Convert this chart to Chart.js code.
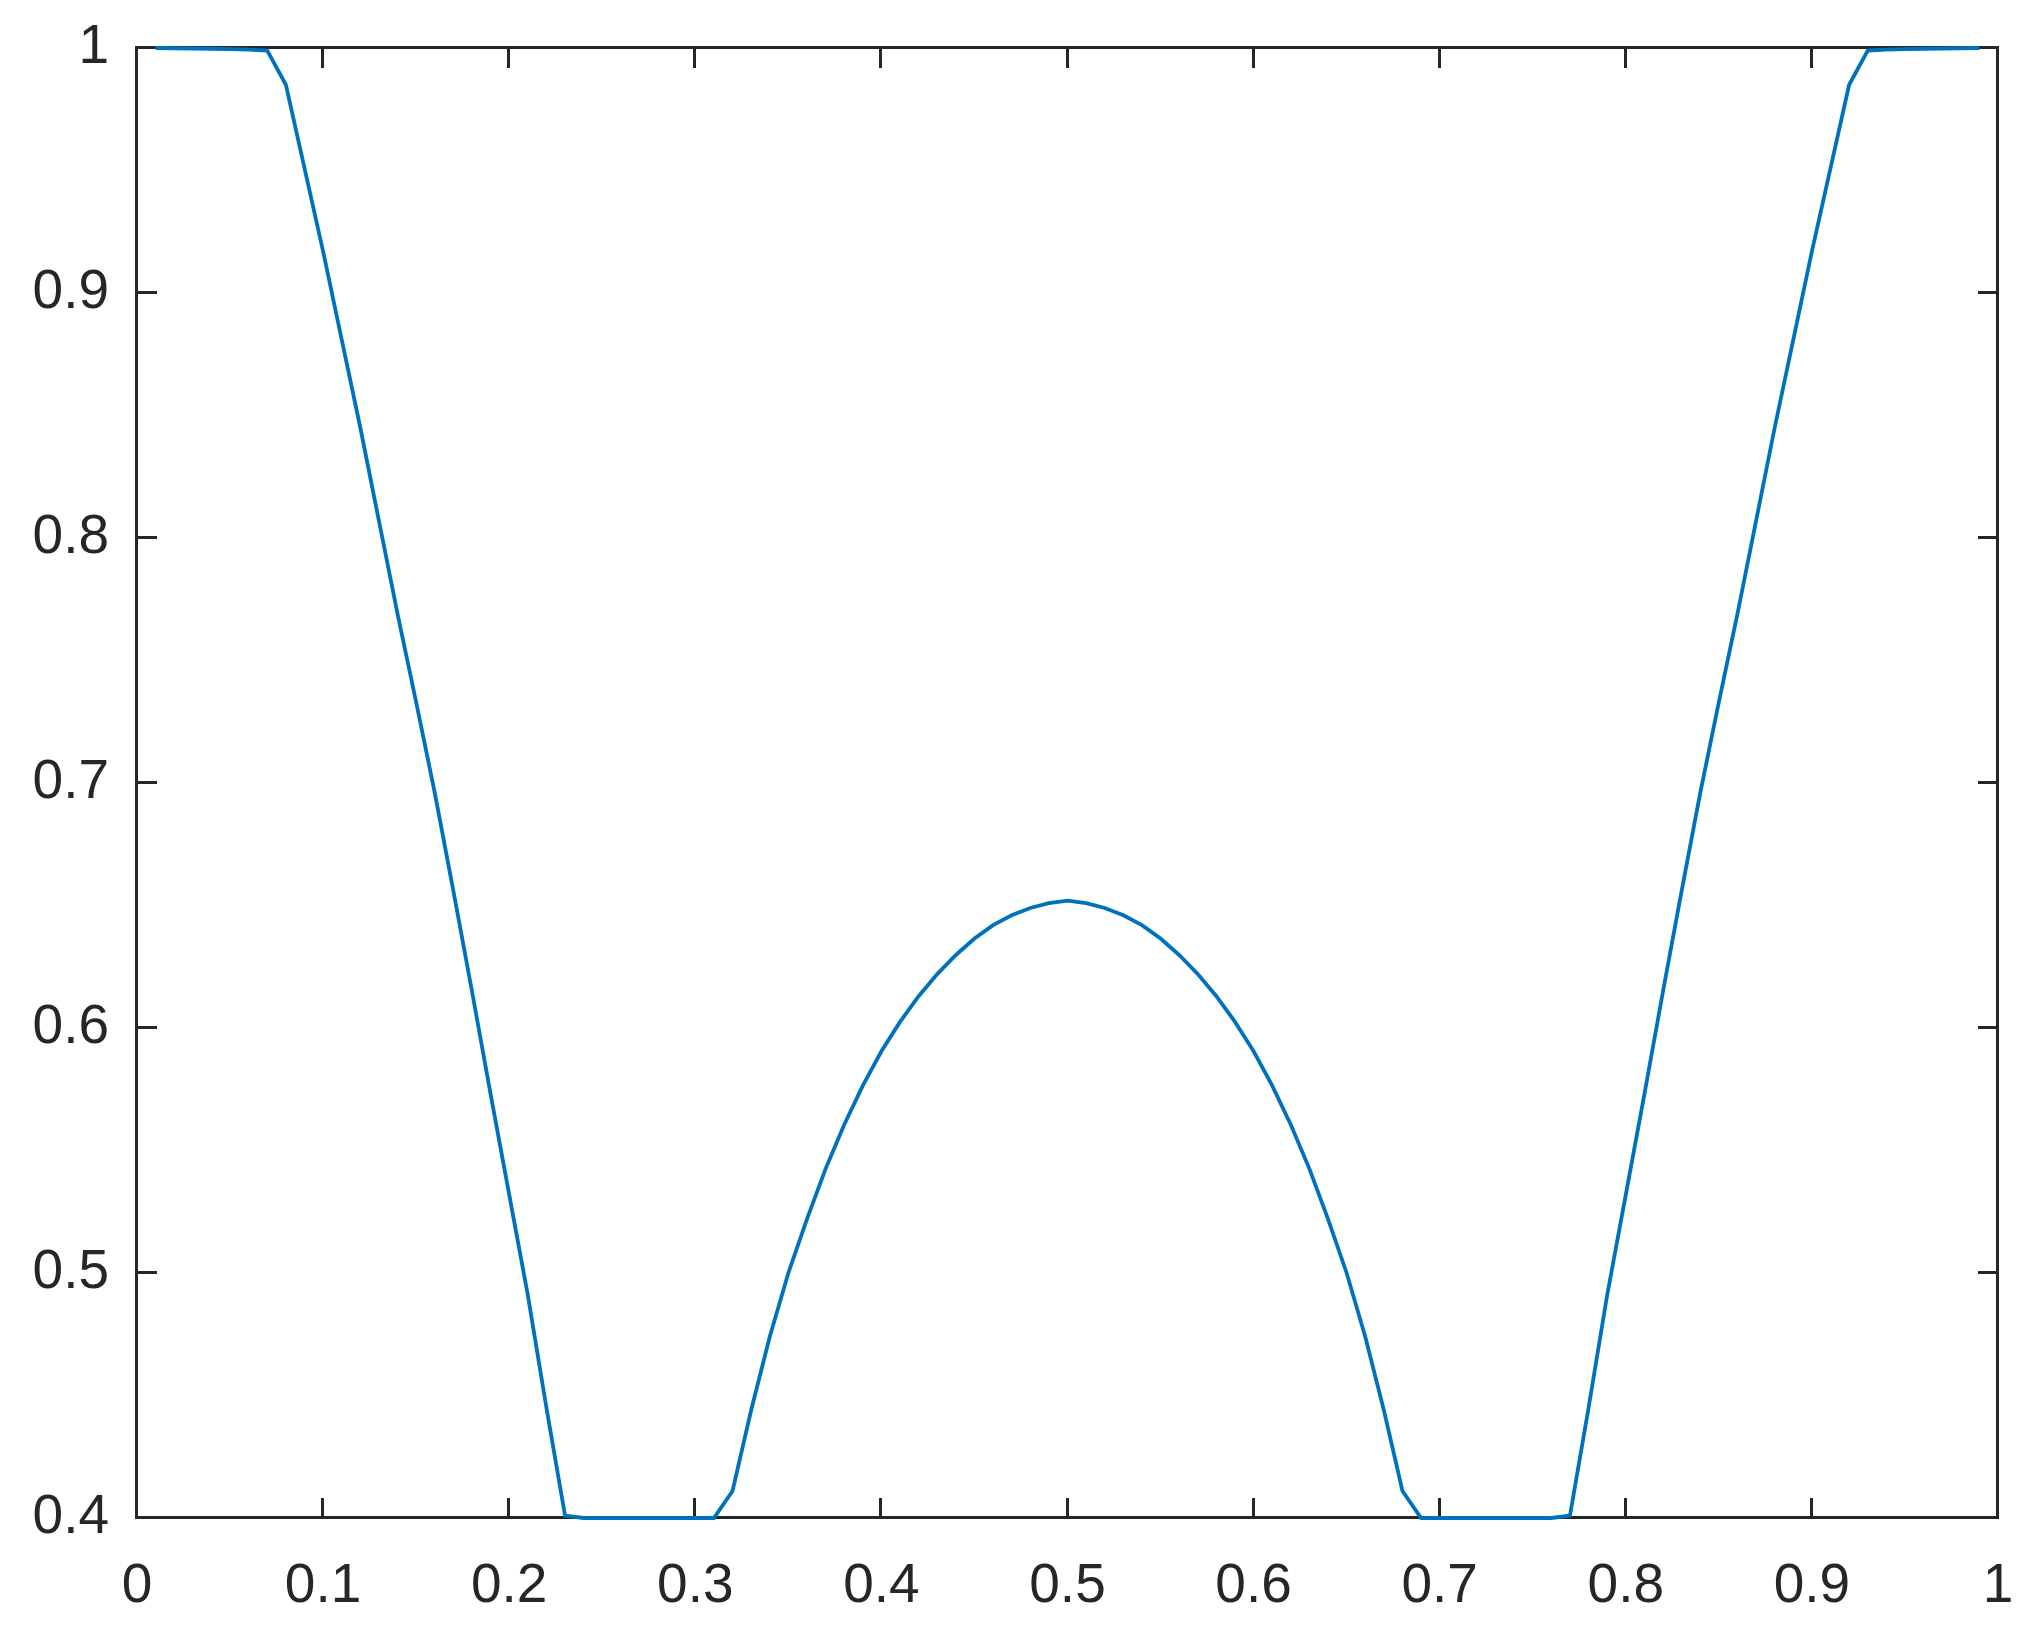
<!DOCTYPE html>
<html>
<head>
<meta charset="utf-8">
<script src="https://cdn.jsdelivr.net/npm/chart.js@4.4.1/dist/chart.umd.min.js"></script>
<style>
  html, body { margin: 0; padding: 0; background: #ffffff; }
  #wrap { width: 2030px; height: 1625px; }
</style>
</head>
<body>
<div id="wrap"><canvas id="c" width="2030" height="1625"></canvas></div>
<script>
// ---- data ----
const xValues = [
  0.01, 0.02, 0.03, 0.04, 0.05, 0.06, 0.07, 0.08, 0.09, 0.10,
  0.11, 0.12, 0.13, 0.14, 0.15, 0.16, 0.17, 0.18, 0.19, 0.20,
  0.21, 0.22, 0.23, 0.24, 0.25, 0.26, 0.27, 0.28, 0.29, 0.30,
  0.31, 0.32, 0.33, 0.34, 0.35, 0.36, 0.37, 0.38, 0.39, 0.40,
  0.41, 0.42, 0.43, 0.44, 0.45, 0.46, 0.47, 0.48, 0.49, 0.50,
  0.51, 0.52, 0.53, 0.54, 0.55, 0.56, 0.57, 0.58, 0.59, 0.60,
  0.61, 0.62, 0.63, 0.64, 0.65, 0.66, 0.67, 0.68, 0.69, 0.70,
  0.71, 0.72, 0.73, 0.74, 0.75, 0.76, 0.77, 0.78, 0.79, 0.80,
  0.81, 0.82, 0.83, 0.84, 0.85, 0.86, 0.87, 0.88, 0.89, 0.90,
  0.91, 0.92, 0.93, 0.94, 0.95, 0.96, 0.97, 0.98, 0.99
];
const yValues = [
  1.0000, 0.9999, 0.9998, 0.9997, 0.9995, 0.9993, 0.9989, 0.985, 0.951, 0.917,
  0.881, 0.845, 0.807, 0.769, 0.733, 0.696, 0.656, 0.615, 0.573, 0.532,
  0.491, 0.445, 0.401, 0.400, 0.400, 0.400, 0.400, 0.400, 0.400, 0.400,
  0.400, 0.411, 0.444, 0.474, 0.500, 0.522, 0.5425, 0.5605, 0.5765, 0.5905,
  0.6025, 0.613, 0.622, 0.6298, 0.6365, 0.642, 0.646, 0.649, 0.651, 0.652,
  0.651, 0.649, 0.646, 0.642, 0.6365, 0.6298, 0.622, 0.613, 0.6025, 0.5905,
  0.5765, 0.5605, 0.5425, 0.522, 0.500, 0.474, 0.444, 0.411, 0.400, 0.400,
  0.400, 0.400, 0.400, 0.400, 0.400, 0.400, 0.401, 0.445, 0.491, 0.532,
  0.573, 0.615, 0.656, 0.696, 0.733, 0.769, 0.807, 0.845, 0.881, 0.917,
  0.951, 0.985, 0.9989, 0.9993, 0.9995, 0.9997, 0.9998, 0.9999, 1.0000
];
const xTicks = [0, 0.1, 0.2, 0.3, 0.4, 0.5, 0.6, 0.7, 0.8, 0.9, 1];
const xTickLabels = ['0', '0.1', '0.2', '0.3', '0.4', '0.5', '0.6', '0.7', '0.8', '0.9', '1'];
const yTicks = [0.4, 0.5, 0.6, 0.7, 0.8, 0.9, 1];
const yTickLabels = ['0.4', '0.5', '0.6', '0.7', '0.8', '0.9', '1'];

const AXIS_COLOR = '#262626';
const LINE_COLOR = '#0072BD';

const points = xValues.map((x, i) => ({ x: x, y: yValues[i] }));

// Box + inward ticks on all four sides (MATLAB style)
const boxPlugin = {
  id: 'matlabBox',
  beforeDatasetsDraw(chart) {
    const { ctx, chartArea: a, scales } = chart;
    const tl = 20;
    ctx.save();
    ctx.strokeStyle = AXIS_COLOR;
    ctx.lineWidth = 3;
    ctx.lineCap = 'butt';
    ctx.beginPath();
    xTicks.forEach(v => {
      const px = Math.round(scales.x.getPixelForValue(v)) - 0.5;
      ctx.moveTo(px, a.bottom); ctx.lineTo(px, a.bottom - tl);
      ctx.moveTo(px, a.top); ctx.lineTo(px, a.top + tl);
    });
    yTicks.forEach(v => {
      const py = Math.round(scales.y.getPixelForValue(v)) - 0.5;
      ctx.moveTo(a.left, py); ctx.lineTo(a.left + tl, py);
      ctx.moveTo(a.right, py); ctx.lineTo(a.right - tl, py);
    });
    ctx.stroke();
    ctx.beginPath();
    ctx.rect(a.left - 0.5, a.top - 0.5, a.right - a.left, a.bottom - a.top);
    ctx.stroke();
    ctx.restore();
  }
};

new Chart(document.getElementById('c'), {
  type: 'line',
  data: {
    datasets: [{
      data: points,
      borderColor: LINE_COLOR,
      borderWidth: 3.8,
      pointRadius: 0,
      tension: 0,
      fill: false,
      clip: false
    }]
  },
  options: {
    responsive: false,
    animation: false,
    devicePixelRatio: 1,
    layout: { padding: { top: 48, right: 32, left: 0, bottom: 0 } },
    plugins: { legend: { display: false }, tooltip: { enabled: false } },
    scales: {
      x: {
        type: 'linear',
        min: 0, max: 1,
        afterFit(scale) {
          scale.height = 107;
          scale.paddingLeft = 0; scale.paddingRight = 0;
          scale.paddingTop = 0; scale.paddingBottom = 0;
        },
        afterBuildTicks(scale) { scale.ticks = xTicks.map(v => ({ value: v })); },
        grid: { display: false, drawTicks: false },
        border: { display: false },
        ticks: {
          padding: 36,
          color: AXIS_COLOR,
          font: { family: '"Liberation Sans", Arial, Helvetica, sans-serif', size: 55 },
          maxRotation: 0,
          autoSkip: false,
          callback: (v) => { const i = xTicks.findIndex(t => Math.abs(t - v) < 1e-9); return i >= 0 ? xTickLabels[i] : ''; }
        }
      },
      y: {
        type: 'linear',
        min: 0.4, max: 1,
        afterFit(scale) {
          scale.width = 137;
          scale.paddingLeft = 0; scale.paddingRight = 0;
          scale.paddingTop = 0; scale.paddingBottom = 0;
        },
        afterBuildTicks(scale) { scale.ticks = yTicks.map(v => ({ value: v })); },
        grid: { display: false, drawTicks: false },
        border: { display: false },
        ticks: {
          padding: 28,
          color: AXIS_COLOR,
          font: { family: '"Liberation Sans", Arial, Helvetica, sans-serif', size: 55 },
          autoSkip: false,
          callback: (v) => { const i = yTicks.findIndex(t => Math.abs(t - v) < 1e-9); return i >= 0 ? yTickLabels[i] : ''; }
        }
      }
    }
  },
  plugins: [boxPlugin]
});
</script>
</body>
</html>
